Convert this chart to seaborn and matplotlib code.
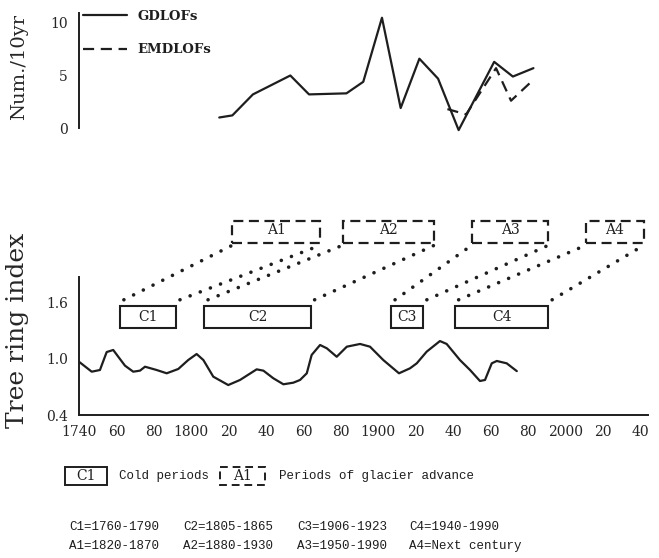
import numpy as np
import pandas as pd
import matplotlib
matplotlib.use("Agg")
import matplotlib.pyplot as plt
from matplotlib.patches import Rectangle
import seaborn as sns

# top panel: outburst floods per decade
flood_years = [1815, 1822, 1833, 1853, 1863, 1883, 1892, 1902, 1912, 1922, 1932, 1943, 1962, 1972, 1983]
gdlof = [1.0, 1.2, 3.2, 5.0, 3.2, 3.3, 4.4, 10.5, 1.9, 6.6, 4.7, -0.2, 6.3, 4.9, 5.7]
emd_years = [1937, 1947, 1963, 1971, 1983]
emdlof = [1.8, 1.3, 5.7, 2.6, 4.6]

# bottom panel: tree ring index
ring_years = [1740, 1746.8, 1751.2, 1754.8, 1758.3, 1761, 1764.6, 1769, 1772.6, 1775.3,
              1781.5, 1786.9, 1793.1, 1798.4, 1802.9, 1806.5, 1811.8, 1819.8, 1826.1, 1835,
              1838.6, 1843.9, 1849.3, 1854.6, 1858.2, 1861.8, 1864.4, 1868.9, 1872.5, 1877.8,
              1883.2, 1890.3, 1895.6, 1902.7, 1911.1, 1917, 1920.6, 1925.9, 1933, 1936.6,
              1943.7, 1949.1, 1954.4, 1957.1, 1960.7, 1963.4, 1968.7, 1974.1]
ring_index = [0.971, 0.865, 0.883, 1.074, 1.096, 1.024, 0.929, 0.865, 0.876, 0.918,
              0.883, 0.848, 0.894, 0.989, 1.053, 0.989, 0.812, 0.723, 0.777, 0.890,
              0.876, 0.795, 0.731, 0.748, 0.777, 0.848, 1.043, 1.149, 1.114, 1.024,
              1.131, 1.160, 1.131, 0.989, 0.848, 0.901, 0.954, 1.078, 1.191, 1.160,
              0.989, 0.883, 0.766, 0.777, 0.954, 0.979, 0.954, 0.871]

cold_names = ["C1", "C2", "C3", "C4"]
cold_start = [1762, 1807, 1907, 1941]
cold_end = [1792, 1864, 1924, 1991]
adv_names = ["A1", "A2", "A3", "A4"]
adv_start = [1822, 1881, 1950, 2011]
adv_end = [1869, 1930, 1991, 2042]

x_ticks = list(range(1740, 2041, 20))
x_labels = ["1740", "60", "80", "1800", "20", "40", "60", "80", "1900",
            "20", "40", "60", "80", "2000", "20", "40"]

notes_c = ["C1=1760-1790", "C2=1805-1865", "C3=1906-1923", "C4=1940-1990"]
notes_a = ["A1=1820-1870", "A2=1880-1930", "A3=1950-1990", "A4=Next century"]

sns.set_style("white")
plt.rcParams['font.family'] = ['DejaVu Serif']
ink = "#1e1e1e"

W, H = 659, 558
fig = plt.figure(figsize=(W / 100, H / 100), dpi=100)

x0, x1 = 79, 649.4
XL = (1740, 2045)


def px_axes(left, right, top, bottom):
    return fig.add_axes([left / W, 1 - bottom / H, (right - left) / W, (bottom - top) / H])


# ---- top panel
ax1 = px_axes(x0, x1, 12.5, 133.25)
sns.lineplot(x=flood_years, y=gdlof, ax=ax1, color=ink, lw=1.6, label="GDLOFs")
sns.lineplot(x=emd_years, y=emdlof, ax=ax1, color=ink, lw=1.6, linestyle=(0, (5, 3)), label="EMDLOFs")
ax1.set_xlim(*XL)
ax1.set_ylim(-0.5, 11)
for s in ["top", "right", "bottom"]:
    ax1.spines[s].set_visible(False)
ax1.spines["left"].set_bounds(0, 10.95)
ax1.spines["left"].set_color(ink)
ax1.spines["left"].set_linewidth(1.4)
ax1.set_xticks([])
ax1.set_yticks([0, 5, 10])
ax1.tick_params(axis="y", direction="out", length=6, width=1.2, color=ink, labelsize=10, pad=2)
ax1.set_ylabel("Num./10yr", fontsize=14)
ax1.yaxis.set_label_coords(-0.09, 0.55)
leg = ax1.legend(loc="upper left", bbox_to_anchor=(83 / W, 1 - 10 / H), bbox_transform=fig.transFigure,
                 frameon=False, handlelength=3.3, handletextpad=0.8, labelspacing=1.55,
                 borderpad=0, borderaxespad=0, prop={"family": "DejaVu Serif", "size": 9.5, "weight": "bold"})
for t in leg.get_texts():
    t.set_color(ink)

# ---- bottom panel
ax2 = px_axes(x0, x1, 218, 415.4)
sns.lineplot(x=ring_years, y=ring_index, ax=ax2, color=ink, lw=1.6)
ax2.set_xlim(*XL)
ax2.set_ylim(0.4, 2.5)
for s in ["top", "right"]:
    ax2.spines[s].set_visible(False)
ax2.spines["left"].set_bounds(0.4, 1.87)
ax2.spines["bottom"].set_bounds(1740, 2044)
for s in ["left", "bottom"]:
    ax2.spines[s].set_color(ink)
    ax2.spines[s].set_linewidth(1.4)
ax2.set_yticks([0.4, 1.0, 1.6])
ax2.set_yticklabels(["0.4", "1.0", "1.6"])
ax2.set_xticks(x_ticks)
ax2.set_xticklabels(x_labels)
ax2.tick_params(axis="x", direction="inout", length=8, width=1.2, color=ink, labelsize=10, pad=3)
ax2.tick_params(axis="y", direction="out", length=6, width=1.2, color=ink, labelsize=10, pad=2)
ax2.set_ylabel("Tree ring index", fontsize=18)
ax2.yaxis.set_label_coords(-0.088, 0.43)

c_lo, c_hi = 1.33, 1.564
a_lo, a_hi = 2.237, 2.47
for name, s, e in zip(cold_names, cold_start, cold_end):
    ax2.add_patch(Rectangle((s, c_lo), e - s, c_hi - c_lo, fill=False, ec=ink, lw=1.5))
    ax2.text((s + e) / 2, (c_lo + c_hi) / 2, name, ha="center", va="center", fontsize=10, color=ink)
for name, s, e in zip(adv_names, adv_start, adv_end):
    ax2.add_patch(Rectangle((s, a_lo), e - s, a_hi - a_lo, fill=False, ec=ink, lw=1.6,
                            linestyle=(0, (4.5, 2.5)), clip_on=False))
    ax2.text((s + e) / 2, (a_lo + a_hi) / 2 + 0.02, name, ha="center", va="center", fontsize=10, color=ink)
for cs, ce, as_, ae in zip(cold_start, cold_end, adv_start, adv_end):
    for xa, xb in [(cs, as_), (ce, ae)]:
        ax2.plot([xa + 2, xb], [1.63, 2.21], color=ink, lw=2.6,
                 linestyle=(0, (0.01, 3.0)), dash_capstyle="round", clip_on=False)

# ---- key and notes below
ov = fig.add_axes([0, 0, 1, 1])
ov.set_xlim(0, W)
ov.set_ylim(H, 0)
ov.axis("off")
ov.patch.set_alpha(0)
ov.add_patch(Rectangle((65, 467), 42, 18, fill=False, ec=ink, lw=1.4))
ov.text(86, 476, "C1", ha="center", va="center", fontsize=10, color=ink)
ov.text(119, 476, "Cold periods", ha="left", va="center", fontsize=9, family="Liberation Mono", color=ink)
ov.add_patch(Rectangle((220, 467), 45, 18, fill=False, ec=ink, lw=1.4, linestyle=(0, (4, 2.5))))
ov.text(242.5, 476, "A1", ha="center", va="center", fontsize=10, color=ink)
ov.text(279, 476, "Periods of glacier advance", ha="left", va="center", fontsize=9,
        family="Liberation Mono", color=ink)
for xpos, tc, ta in zip([69, 183, 297, 409], notes_c, notes_a):
    ov.text(xpos, 527, tc, ha="left", va="center", fontsize=9, family="Liberation Mono", color=ink)
    ov.text(xpos, 546, ta, ha="left", va="center", fontsize=9, family="Liberation Mono", color=ink)

fig.savefig("out.png", dpi=100)
